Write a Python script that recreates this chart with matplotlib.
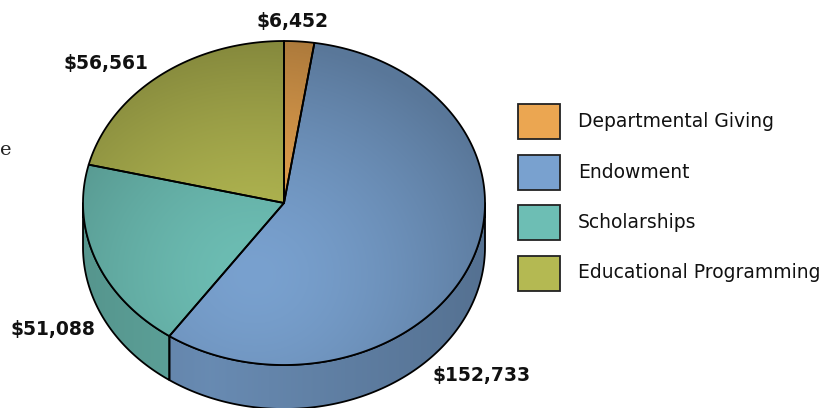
import numpy as np
import matplotlib
matplotlib.use("Agg")
import matplotlib.pyplot as plt
from matplotlib.patches import Polygon, Rectangle
from matplotlib.colors import to_rgb

categories = ["Departmental Giving", "Endowment", "Scholarships", "Educational Programming"]
values = [6452, 152733, 51088, 56561]
labels = ["$6,452", "$152,733", "$51,088", "$56,561"]
colors = ["#EBA651", "#79A1CF", "#6DBEB4", "#B4B952"]

W, H = 823, 408
fig = plt.figure(figsize=(W / 100, H / 100), dpi=100)
ax = fig.add_axes([0, 0, 1, 1])
ax.set_xlim(0, W)
ax.set_ylim(H, 0)
ax.axis("off")

cx, cy, rx, ry, depth = 284.0, 203.0, 201.0, 162.0, 44.0


def pt(theta_deg, dy=0.0):
    t = np.radians(theta_deg)
    return cx + rx * np.sin(t), cy - ry * np.cos(t) + dy


def arc(t0, t1, dy=0.0, n=None):
    if n is None:
        n = max(2, int(abs(t1 - t0) * 2))
    ts = np.linspace(t0, t1, n)
    xs, ys = pt(ts, dy)
    return np.column_stack([xs, ys])


def gradient_fill(verts, base, mode, zorder):
    base = np.array(to_rgb(base))
    poly = Polygon(verts, closed=True, facecolor="none", edgecolor="none")
    ax.add_patch(poly)
    x0, y0 = verts.min(axis=0) - 2
    x1, y1 = verts.max(axis=0) + 2
    nx, ny = max(2, int(x1 - x0)), max(2, int(y1 - y0))
    X, Y = np.meshgrid(np.linspace(x0, x1, nx), np.linspace(y0, y1, ny))
    if mode == "top":
        d = np.hypot((X - 255) / 1.0, (Y - 275) / 0.9)
        f = 1.0 - 0.26 * np.clip(d / 260.0, 0, 1) ** 1.5
    else:
        d = np.abs(X - 210) / 280.0
        f = 0.86 - 0.16 * np.clip(d, 0, 1)
    img = np.clip(base[None, None, :] * f[..., None], 0, 1)
    im = ax.imshow(img, extent=(x0, x1, y1, y0), origin="upper",
                   interpolation="bilinear", zorder=zorder, aspect="auto")
    im.set_clip_path(poly)
    edge = Polygon(verts, closed=True, facecolor="none", edgecolor="black",
                   linewidth=1.3, zorder=zorder + 0.5, joinstyle="round")
    ax.add_patch(edge)


total = float(sum(values))
starts = []
acc = 0.0
for v in values:
    starts.append(acc / total * 360.0)
    acc += v
ends = starts[1:] + [360.0]

# side walls (visible between 90 and 270 degrees clockwise from top)
for s, e, c in zip(starts, ends, colors):
    a0, a1 = max(s, 90.0), min(e, 270.0)
    if a1 <= a0:
        continue
    top = arc(a0, a1)
    bot = arc(a1, a0, dy=depth)
    verts = np.vstack([top, bot])
    gradient_fill(verts, c, "side", zorder=2)

# top faces
for s, e, c in zip(starts, ends, colors):
    verts = np.vstack([[[cx, cy]], arc(s, e)])
    gradient_fill(verts, c, "top", zorder=4)

# value labels
lab_font = dict(family="DejaVu Sans", fontweight="bold", fontsize=13.5, color="#111111")
label_pos = [(293, 22), (482, 376), (53, 330), (106, 63)]
for (x, y), t in zip(label_pos, labels):
    ax.text(x, y, t, ha="center", va="center", zorder=10, **lab_font)

# legend
for i, (name, c) in enumerate(zip(categories, colors)):
    y = 104 + i * 50.5
    ax.add_patch(Rectangle((518, y), 42, 35, facecolor=c, edgecolor="#222222",
                           linewidth=1.3, zorder=10))
    ax.text(578, y + 17.5, name, ha="left", va="center", fontsize=13.5,
            family="DejaVu Sans", color="#111111", zorder=10)

# stray glyph at left edge
ax.text(0, 150, "e", ha="left", va="center", fontsize=14, family="DejaVu Serif",
        color="#222222")

fig.savefig("out.png", dpi=100)
